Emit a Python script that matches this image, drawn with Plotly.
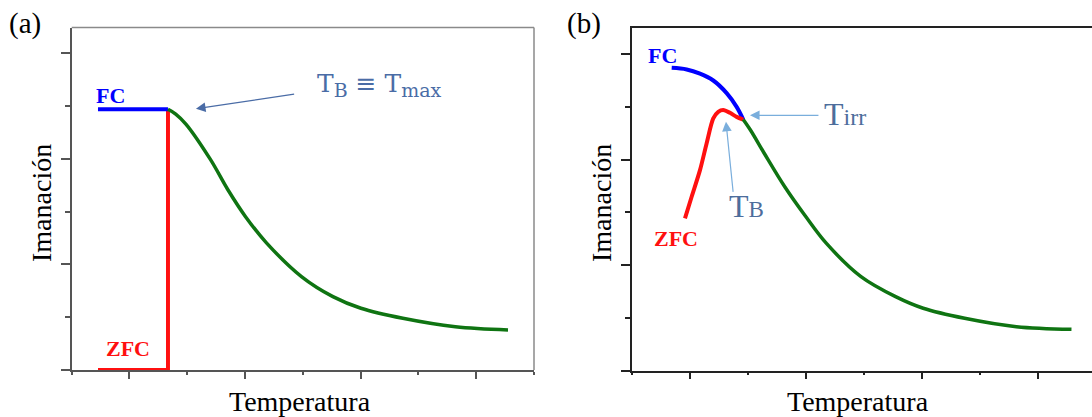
import plotly.graph_objects as go

W, H = 1092, 417

# ---------------- data ----------------
# Panel (a)
a_fc_x = [0.455, 1.666]
a_fc_y = [4.94, 4.94]
a_zfc_x = [0.455, 1.666, 1.666]
a_zfc_y = [0.0, 0.0, 4.94]
a_green_x = [1.666, 1.80, 1.976, 2.40, 2.70, 3.005, 3.37, 3.976, 4.52, 5.005, 5.73, 6.64, 7.55]
a_green_y = [4.94, 4.85, 4.66, 3.99, 3.42, 2.91, 2.41, 1.77, 1.39, 1.17, 0.98, 0.82, 0.76]

# Panel (b)
b_fc_x = [0.69, 0.948, 1.178, 1.407, 1.638, 1.81, 1.924]
b_fc_y = [5.74, 5.71, 5.63, 5.50, 5.26, 5.00, 4.76]
b_zfc_x = [0.919, 1.034, 1.178, 1.293, 1.407, 1.493, 1.579, 1.695, 1.81, 1.924]
b_zfc_y = [2.885, 3.295, 3.80, 4.31, 4.78, 4.906, 4.94, 4.887, 4.81, 4.76]
b_green_x = [1.924, 2.048, 2.286, 2.643, 3.002, 3.359, 3.955, 4.552, 5.028, 5.743, 6.636, 7.586]
b_green_y = [4.76, 4.56, 4.12, 3.48, 2.92, 2.41, 1.78, 1.40, 1.18, 0.99, 0.83, 0.78]

# Key temperatures (data coords)
a_tb = (2.15, 4.95)           # arrow tip T_B = T_max
b_tirr = (2.04, 4.84)         # arrow tip T_irr
b_tb = (1.626, 4.72)          # arrow tip T_B

x_title = "Temperatura"
y_title = "Imanación"

BLUE = "#0000ff"
RED = "#ff1010"
GREEN = "#0f7412"
ANN = "#4a6ca6"
ANN_B = "#4d6d9c"
ARR_B = "#7aaedc"


def px(x):
    return x / W


def py(y):
    return 1 - y / H


fig = go.Figure()
lw = 4

# panel (a)
fig.add_trace(go.Scatter(x=a_zfc_x, y=a_zfc_y, mode="lines", line=dict(color=RED, width=lw),
                         xaxis="x", yaxis="y", showlegend=False, hoverinfo="skip"))
fig.add_trace(go.Scatter(x=a_fc_x, y=a_fc_y, mode="lines", line=dict(color=BLUE, width=lw),
                         xaxis="x", yaxis="y", showlegend=False, hoverinfo="skip"))
fig.add_trace(go.Scatter(x=a_green_x, y=a_green_y, mode="lines",
                         line=dict(color=GREEN, width=3.5, shape="spline", smoothing=1.0),
                         xaxis="x", yaxis="y", showlegend=False, hoverinfo="skip"))
# panel (b)
fig.add_trace(go.Scatter(x=b_fc_x, y=b_fc_y, mode="lines",
                         line=dict(color=BLUE, width=lw, shape="spline", smoothing=1.0),
                         xaxis="x2", yaxis="y2", showlegend=False, hoverinfo="skip"))
fig.add_trace(go.Scatter(x=b_zfc_x, y=b_zfc_y, mode="lines",
                         line=dict(color=RED, width=lw, shape="spline", smoothing=0.8),
                         xaxis="x2", yaxis="y2", showlegend=False, hoverinfo="skip"))
fig.add_trace(go.Scatter(x=b_green_x, y=b_green_y, mode="lines",
                         line=dict(color=GREEN, width=3.5, shape="spline", smoothing=1.0),
                         xaxis="x2", yaxis="y2", showlegend=False, hoverinfo="skip"))


def xaxis_cfg(dom, rng, col, mirror):
    return dict(domain=dom, range=rng, showgrid=False, zeroline=False, showticklabels=False,
                showline=True, linecolor=col, linewidth=1.5, mirror=mirror,
                ticks="outside", tick0=1, dtick=2, ticklen=7, tickwidth=1.5, tickcolor=col,
                minor=dict(ticks="outside", tick0=0, dtick=1, ticklen=3, tickwidth=1.5, tickcolor=col),
                fixedrange=True)


def yaxis_cfg(dom, rng, col, anchor):
    return dict(domain=dom, range=rng, anchor=anchor, showgrid=False, zeroline=False,
                showticklabels=False, showline=True, linecolor=col, linewidth=1.5,
                ticks="outside", tick0=0, dtick=2, ticklen=9, tickwidth=1.5, tickcolor=col,
                minor=dict(ticks="outside", tick0=0, dtick=1, ticklen=5, tickwidth=1.5, tickcolor=col),
                fixedrange=True)


ydom = [py(370), py(27.5)]
fig.update_layout(
    width=W, height=H,
    margin=dict(l=0, r=0, t=0, b=0),
    paper_bgcolor="white", plot_bgcolor="white",
    xaxis=xaxis_cfg([px(71.7), px(534)], [0, 8.0], "#555555", False),
    yaxis=yaxis_cfg(ydom, [0, 6.49], "#555555", "x"),
    xaxis2=xaxis_cfg([px(631.7), 1.0], [0, 7.94], "#222222", True),
    yaxis2=yaxis_cfg([py(370.5), py(28.3)], [0, 6.49], "#222222", "x2"),
)
fig.layout.xaxis2.anchor = "y2"
fig.layout.xaxis.anchor = "y"

# top & right borders of panel (a) (lighter gray)
fig.add_shape(type="line", xref="x domain", yref="y domain", x0=0, x1=1, y0=1, y1=1,
              line=dict(color="#8a8a8a", width=1.5))
fig.add_shape(type="line", xref="x domain", yref="y domain", x0=1, x1=1, y0=0, y1=1,
              line=dict(color="#8a8a8a", width=1.5))

serif = "Liberation Serif, Times New Roman, serif"
ann = []
# panel letters
ann.append(dict(text="(a)", x=px(25.4), y=py(23.5), font=dict(family=serif, size=29, color="black")))
ann.append(dict(text="(b)", x=px(583.7), y=py(24), font=dict(family=serif, size=29, color="black")))
# axis titles
for cx in (299.5, 858):
    ann.append(dict(text=x_title, x=px(cx), y=py(401), font=dict(family=serif, size=28, color="black")))
for cx in (41, 601):
    ann.append(dict(text=y_title, x=px(cx), y=py(203), textangle=-90,
                    font=dict(family=serif, size=28, color="black")))
# curve labels
bold = dict(family=serif, size=22)
ann.append(dict(text="<b>FC</b>", x=px(110.5), y=py(95.5), font=dict(bold, color=BLUE)))
ann.append(dict(text="<b>ZFC</b>", x=px(127.5), y=py(348), font=dict(bold, color=RED)))
ann.append(dict(text="<b>FC</b>", x=px(662.5), y=py(55.5), font=dict(bold, color=BLUE)))
ann.append(dict(text="<b>ZFC</b>", x=px(675.5), y=py(238.5), font=dict(bold, color=RED)))
for a in ann:
    a.update(xref="paper", yref="paper", showarrow=False, xanchor="center", yanchor="middle")

# arrows
ann.append(dict(x=a_tb[0], y=a_tb[1], xref="x", yref="y", ax=3.875, ay=5.23, axref="x", ayref="y",
                showarrow=True, arrowhead=2, arrowsize=1.6, arrowwidth=1.2, arrowcolor=ANN, text=""))
ann.append(dict(x=b_tirr[0], y=b_tirr[1], xref="x2", yref="y2", ax=3.247, ay=b_tirr[1], axref="x2", ayref="y2",
                showarrow=True, arrowhead=2, arrowsize=1.6, arrowwidth=1.2, arrowcolor=ARR_B, text=""))
ann.append(dict(x=b_tb[0], y=b_tb[1], xref="x2", yref="y2", ax=1.752, ay=3.36, axref="x2", ayref="y2",
                showarrow=True, arrowhead=2, arrowsize=1.6, arrowwidth=1.2, arrowcolor=ARR_B, text=""))
# annotation texts
ann.append(dict(text="T<sub><span style='font-size:19px'>B</span></sub> ≡ T<sub><span style='font-size:19px'>max</span></sub>",
                x=4.21, y=5.40, xref="x", yref="y",
                xanchor="left", yanchor="middle", showarrow=False,
                font=dict(family="DejaVu Serif, serif", size=25, color=ANN)))
ann.append(dict(text="T<span style='font-size:24px'>irr</span>", x=3.276, y=4.87, xref="x2", yref="y2",
                xanchor="left", yanchor="middle", showarrow=False,
                font=dict(family=serif, size=32, color=ANN_B)))
ann.append(dict(text="T<span style='font-size:23px'>B</span>", x=1.638, y=3.12, xref="x2", yref="y2",
                xanchor="left", yanchor="middle", showarrow=False,
                font=dict(family=serif, size=32, color=ANN_B)))

fig.update_layout(annotations=ann)
fig.write_html("out.html")
